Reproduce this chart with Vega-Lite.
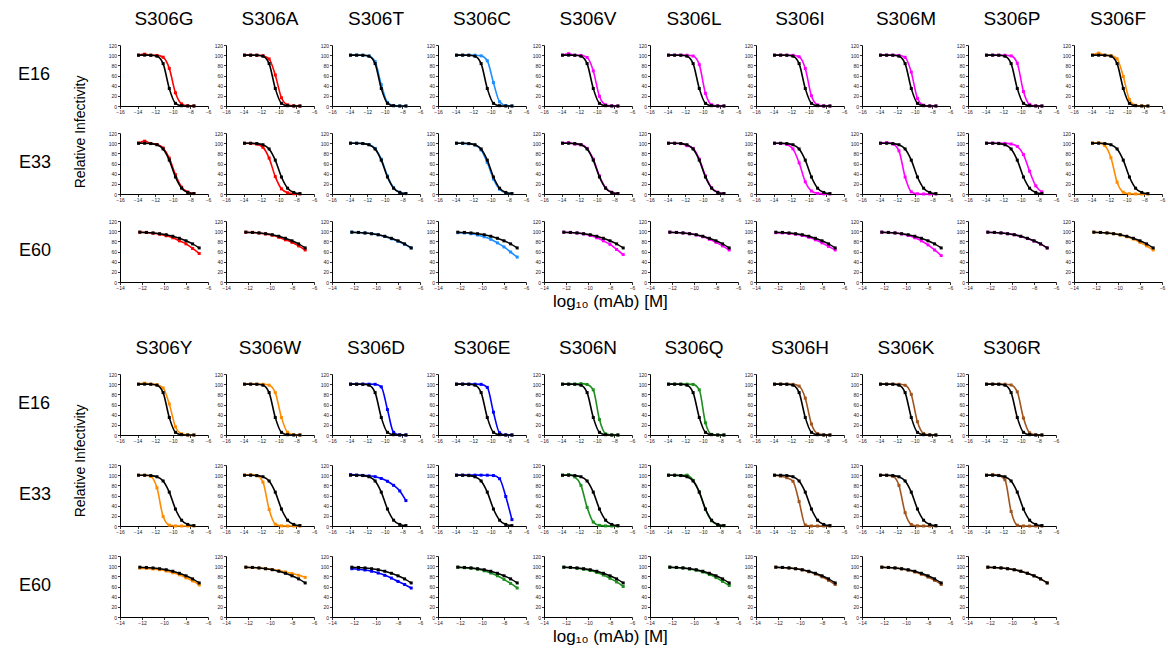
{
"$schema":"https://vega.github.io/schema/vega-lite/v6.json",
"background":"white",
"padding":{"left":17,"top":10,"right":2,"bottom":2},
"config":{"font":"Liberation Sans","view":{"stroke":null},
"axis":{"grid":false,"domainColor":"black","domainWidth":1,"tickColor":"black","tickSize":2.5,"tickWidth":0.8,"labelFontSize":5,"labelColor":"#222","labelPadding":1,"labelOverlap":false,"labelFlush":false,"labelBound":false,"title":null},
"header":{"labelFont":"Liberation Sans","labelColor":"black","titleFont":"Liberation Sans"},
"title":{"font":"Liberation Sans","fontWeight":"normal","color":"black"}},
"datasets":{
"top":[
{"e":"E16","m":"S306G","x":-13.9,"w":100,"v":100},{"e":"E16","m":"S306G","x":-13.2,"w":100,"v":102},{"e":"E16","m":"S306G","x":-12.5,"w":99.8,"v":99.9},{"e":"E16","m":"S306G","x":-11.8,"w":98,"v":99.5},{"e":"E16","m":"S306G","x":-11.1,"w":83.4,"v":95.9},{"e":"E16","m":"S306G","x":-10.4,"w":34.4,"v":74},{"e":"E16","m":"S306G","x":-9.7,"w":5.2,"v":26},{"e":"E16","m":"S306G","x":-9,"w":0.6,"v":4.1},{"e":"E16","m":"S306G","x":-8.3,"w":0,"v":0.5},{"e":"E16","m":"S306G","x":-7.6,"w":0,"v":0.1},
{"e":"E16","m":"S306A","x":-13.9,"w":100,"v":100},{"e":"E16","m":"S306A","x":-13.2,"w":100,"v":100},{"e":"E16","m":"S306A","x":-12.5,"w":99.8,"v":99.9},{"e":"E16","m":"S306A","x":-11.8,"w":98,"v":99},{"e":"E16","m":"S306A","x":-11.1,"w":83.4,"v":92.6},{"e":"E16","m":"S306A","x":-10.4,"w":34.4,"v":61},{"e":"E16","m":"S306A","x":-9.7,"w":5.2,"v":16.2},{"e":"E16","m":"S306A","x":-9,"w":0.6,"v":2.3},{"e":"E16","m":"S306A","x":-8.3,"w":0,"v":0.3},{"e":"E16","m":"S306A","x":-7.6,"w":0,"v":0},
{"e":"E16","m":"S306T","x":-13.9,"w":100,"v":100},{"e":"E16","m":"S306T","x":-13.2,"w":100,"v":100},{"e":"E16","m":"S306T","x":-12.5,"w":99.8,"v":99.8},{"e":"E16","m":"S306T","x":-11.8,"w":98,"v":98.5},{"e":"E16","m":"S306T","x":-11.1,"w":83.4,"v":87.4},{"e":"E16","m":"S306T","x":-10.4,"w":34.4,"v":42},{"e":"E16","m":"S306T","x":-9.7,"w":5.2,"v":7.1},{"e":"E16","m":"S306T","x":-9,"w":0.6,"v":0.8},{"e":"E16","m":"S306T","x":-8.3,"w":0,"v":0.1},{"e":"E16","m":"S306T","x":-7.6,"w":0,"v":0},
{"e":"E16","m":"S306C","x":-13.9,"w":100,"v":100},{"e":"E16","m":"S306C","x":-13.2,"w":100,"v":100},{"e":"E16","m":"S306C","x":-12.5,"w":99.8,"v":100},{"e":"E16","m":"S306C","x":-11.8,"w":98,"v":99.9},{"e":"E16","m":"S306C","x":-11.1,"w":83.4,"v":98.7},{"e":"E16","m":"S306C","x":-10.4,"w":34.4,"v":89},{"e":"E16","m":"S306C","x":-9.7,"w":5.2,"v":46},{"e":"E16","m":"S306C","x":-9,"w":0.6,"v":8.2},{"e":"E16","m":"S306C","x":-8.3,"w":0,"v":0.9},{"e":"E16","m":"S306C","x":-7.6,"w":0,"v":0.1},
{"e":"E16","m":"S306V","x":-13.9,"w":100,"v":100},{"e":"E16","m":"S306V","x":-13.2,"w":100,"v":103},{"e":"E16","m":"S306V","x":-12.5,"w":99.8,"v":99.9},{"e":"E16","m":"S306V","x":-11.8,"w":98,"v":99.5},{"e":"E16","m":"S306V","x":-11.1,"w":83.4,"v":95.5},{"e":"E16","m":"S306V","x":-10.4,"w":34.4,"v":69.1},{"e":"E16","m":"S306V","x":-9.7,"w":5.2,"v":19},{"e":"E16","m":"S306V","x":-9,"w":0.6,"v":2.4},{"e":"E16","m":"S306V","x":-8.3,"w":0,"v":0.3},{"e":"E16","m":"S306V","x":-7.6,"w":0,"v":0},
{"e":"E16","m":"S306L","x":-13.9,"w":100,"v":100},{"e":"E16","m":"S306L","x":-13.2,"w":100,"v":100},{"e":"E16","m":"S306L","x":-12.5,"w":99.8,"v":100},{"e":"E16","m":"S306L","x":-11.8,"w":98,"v":99.9},{"e":"E16","m":"S306L","x":-11.1,"w":83.4,"v":98.3},{"e":"E16","m":"S306L","x":-10.4,"w":34.4,"v":81.4},{"e":"E16","m":"S306L","x":-9.7,"w":5.2,"v":24.9},{"e":"E16","m":"S306L","x":-9,"w":0.6,"v":2.4},{"e":"E16","m":"S306L","x":-8.3,"w":0,"v":0.2},{"e":"E16","m":"S306L","x":-7.6,"w":0,"v":0},
{"e":"E16","m":"S306I","x":-13.9,"w":100,"v":100},{"e":"E16","m":"S306I","x":-13.2,"w":100,"v":100},{"e":"E16","m":"S306I","x":-12.5,"w":99.8,"v":100},{"e":"E16","m":"S306I","x":-11.8,"w":98,"v":99.7},{"e":"E16","m":"S306I","x":-11.1,"w":83.4,"v":96.9},{"e":"E16","m":"S306I","x":-10.4,"w":34.4,"v":73.8},{"e":"E16","m":"S306I","x":-9.7,"w":5.2,"v":20.1},{"e":"E16","m":"S306I","x":-9,"w":0.6,"v":2.2},{"e":"E16","m":"S306I","x":-8.3,"w":0,"v":0.2},{"e":"E16","m":"S306I","x":-7.6,"w":0,"v":0},
{"e":"E16","m":"S306M","x":-13.9,"w":100,"v":100},{"e":"E16","m":"S306M","x":-13.2,"w":100,"v":100},{"e":"E16","m":"S306M","x":-12.5,"w":99.8,"v":100},{"e":"E16","m":"S306M","x":-11.8,"w":98,"v":99.6},{"e":"E16","m":"S306M","x":-11.1,"w":83.4,"v":95.7},{"e":"E16","m":"S306M","x":-10.4,"w":34.4,"v":66.6},{"e":"E16","m":"S306M","x":-9.7,"w":5.2,"v":15.1},{"e":"E16","m":"S306M","x":-9,"w":0.6,"v":1.6},{"e":"E16","m":"S306M","x":-8.3,"w":0,"v":0.1},{"e":"E16","m":"S306M","x":-7.6,"w":0,"v":0},
{"e":"E16","m":"S306P","x":-13.9,"w":100,"v":100},{"e":"E16","m":"S306P","x":-13.2,"w":100,"v":100},{"e":"E16","m":"S306P","x":-12.5,"w":99.8,"v":100},{"e":"E16","m":"S306P","x":-11.8,"w":98,"v":99.9},{"e":"E16","m":"S306P","x":-11.1,"w":83.4,"v":98.6},{"e":"E16","m":"S306P","x":-10.4,"w":34.4,"v":84},{"e":"E16","m":"S306P","x":-9.7,"w":5.2,"v":28.5},{"e":"E16","m":"S306P","x":-9,"w":0.6,"v":2.9},{"e":"E16","m":"S306P","x":-8.3,"w":0,"v":0.2},{"e":"E16","m":"S306P","x":-7.6,"w":0,"v":0},
{"e":"E16","m":"S306F","x":-13.9,"w":100,"v":100},{"e":"E16","m":"S306F","x":-13.2,"w":100,"v":104},{"e":"E16","m":"S306F","x":-12.5,"w":99.8,"v":99.9},{"e":"E16","m":"S306F","x":-11.8,"w":98,"v":99.2},{"e":"E16","m":"S306F","x":-11.1,"w":83.4,"v":93},{"e":"E16","m":"S306F","x":-10.4,"w":34.4,"v":58},{"e":"E16","m":"S306F","x":-9.7,"w":5.2,"v":12.6},{"e":"E16","m":"S306F","x":-9,"w":0.6,"v":1.5},{"e":"E16","m":"S306F","x":-8.3,"w":0,"v":0.2},{"e":"E16","m":"S306F","x":-7.6,"w":0,"v":0},
{"e":"E33","m":"S306G","x":-13.9,"w":99.9,"v":100},{"e":"E33","m":"S306G","x":-13.2,"w":99.8,"v":104},{"e":"E33","m":"S306G","x":-12.5,"w":99.2,"v":99.3},{"e":"E33","m":"S306G","x":-11.8,"w":96.9,"v":97.4},{"e":"E33","m":"S306G","x":-11.1,"w":88.6,"v":90.5},{"e":"E33","m":"S306G","x":-10.4,"w":66.6,"v":70.6},{"e":"E33","m":"S306G","x":-9.7,"w":33.4,"v":38.1},{"e":"E33","m":"S306G","x":-9,"w":11.4,"v":13.4},{"e":"E33","m":"S306G","x":-8.3,"w":3.1,"v":3.8},{"e":"E33","m":"S306G","x":-7.6,"w":0.8,"v":1},
{"e":"E33","m":"S306A","x":-13.9,"w":99.9,"v":99.9},{"e":"E33","m":"S306A","x":-13.2,"w":99.8,"v":99.6},{"e":"E33","m":"S306A","x":-12.5,"w":99.2,"v":98.1},{"e":"E33","m":"S306A","x":-11.8,"w":96.9,"v":91.8},{"e":"E33","m":"S306A","x":-11.1,"w":88.6,"v":70.6},{"e":"E33","m":"S306A","x":-10.4,"w":66.6,"v":34.2},{"e":"E33","m":"S306A","x":-9.7,"w":33.4,"v":10.1},{"e":"E33","m":"S306A","x":-9,"w":11.4,"v":2.4},{"e":"E33","m":"S306A","x":-8.3,"w":3.1,"v":0.5},{"e":"E33","m":"S306A","x":-7.6,"w":0.8,"v":0.1},
{"e":"E33","m":"S306T","x":-13.9,"w":99.9,"v":100},{"e":"E33","m":"S306T","x":-13.2,"w":99.8,"v":99.8},{"e":"E33","m":"S306T","x":-12.5,"w":99.2,"v":99.3},{"e":"E33","m":"S306T","x":-11.8,"w":96.9,"v":97.1},{"e":"E33","m":"S306T","x":-11.1,"w":88.6,"v":89.7},{"e":"E33","m":"S306T","x":-10.4,"w":66.6,"v":68.6},{"e":"E33","m":"S306T","x":-9.7,"w":33.4,"v":35.7},{"e":"E33","m":"S306T","x":-9,"w":11.4,"v":12.4},{"e":"E33","m":"S306T","x":-8.3,"w":3.1,"v":3.5},{"e":"E33","m":"S306T","x":-7.6,"w":0.8,"v":0.9},
{"e":"E33","m":"S306C","x":-13.9,"w":99.9,"v":99.9},{"e":"E33","m":"S306C","x":-13.2,"w":99.8,"v":99.7},{"e":"E33","m":"S306C","x":-12.5,"w":99.2,"v":99},{"e":"E33","m":"S306C","x":-11.8,"w":96.9,"v":96.2},{"e":"E33","m":"S306C","x":-11.1,"w":88.6,"v":86.6},{"e":"E33","m":"S306C","x":-10.4,"w":66.6,"v":61.9},{"e":"E33","m":"S306C","x":-9.7,"w":33.4,"v":29.4},{"e":"E33","m":"S306C","x":-9,"w":11.4,"v":9.5},{"e":"E33","m":"S306C","x":-8.3,"w":3.1,"v":2.6},{"e":"E33","m":"S306C","x":-7.6,"w":0.8,"v":0.7},
{"e":"E33","m":"S306V","x":-13.9,"w":99.9,"v":100},{"e":"E33","m":"S306V","x":-13.2,"w":99.8,"v":101},{"e":"E33","m":"S306V","x":-12.5,"w":99.2,"v":98},{"e":"E33","m":"S306V","x":-11.8,"w":96.9,"v":97.1},{"e":"E33","m":"S306V","x":-11.1,"w":88.6,"v":89.7},{"e":"E33","m":"S306V","x":-10.4,"w":66.6,"v":68.6},{"e":"E33","m":"S306V","x":-9.7,"w":33.4,"v":35.7},{"e":"E33","m":"S306V","x":-9,"w":11.4,"v":12.4},{"e":"E33","m":"S306V","x":-8.3,"w":3.1,"v":3.5},{"e":"E33","m":"S306V","x":-7.6,"w":0.8,"v":0.9},
{"e":"E33","m":"S306L","x":-13.9,"w":99.9,"v":100},{"e":"E33","m":"S306L","x":-13.2,"w":99.8,"v":99.8},{"e":"E33","m":"S306L","x":-12.5,"w":99.2,"v":99.3},{"e":"E33","m":"S306L","x":-11.8,"w":96.9,"v":95},{"e":"E33","m":"S306L","x":-11.1,"w":88.6,"v":89.7},{"e":"E33","m":"S306L","x":-10.4,"w":66.6,"v":68.6},{"e":"E33","m":"S306L","x":-9.7,"w":33.4,"v":35.7},{"e":"E33","m":"S306L","x":-9,"w":11.4,"v":12.4},{"e":"E33","m":"S306L","x":-8.3,"w":3.1,"v":3.5},{"e":"E33","m":"S306L","x":-7.6,"w":0.8,"v":0.9},
{"e":"E33","m":"S306I","x":-13.9,"w":99.9,"v":99.9},{"e":"E33","m":"S306I","x":-13.2,"w":99.8,"v":99.5},{"e":"E33","m":"S306I","x":-12.5,"w":99.2,"v":97.5},{"e":"E33","m":"S306I","x":-11.8,"w":96.9,"v":88.8},{"e":"E33","m":"S306I","x":-11.1,"w":88.6,"v":61.3},{"e":"E33","m":"S306I","x":-10.4,"w":66.6,"v":24},{"e":"E33","m":"S306I","x":-9.7,"w":33.4,"v":5.9},{"e":"E33","m":"S306I","x":-9,"w":11.4,"v":1.2},{"e":"E33","m":"S306I","x":-8.3,"w":3.1,"v":0.3},{"e":"E33","m":"S306I","x":-7.6,"w":0.8,"v":0.1},
{"e":"E33","m":"S306M","x":-13.9,"w":99.9,"v":100},{"e":"E33","m":"S306M","x":-13.2,"w":99.8,"v":101},{"e":"E33","m":"S306M","x":-12.5,"w":99.2,"v":98.4},{"e":"E33","m":"S306M","x":-11.8,"w":96.9,"v":84.9},{"e":"E33","m":"S306M","x":-11.1,"w":88.6,"v":33.4},{"e":"E33","m":"S306M","x":-10.4,"w":66.6,"v":4.3},{"e":"E33","m":"S306M","x":-9.7,"w":33.4,"v":0.4},{"e":"E33","m":"S306M","x":-9,"w":11.4,"v":0},{"e":"E33","m":"S306M","x":-8.3,"w":3.1,"v":0},{"e":"E33","m":"S306M","x":-7.6,"w":0.8,"v":0},
{"e":"E33","m":"S306P","x":-13.9,"w":99.9,"v":100},{"e":"E33","m":"S306P","x":-13.2,"w":99.8,"v":100},{"e":"E33","m":"S306P","x":-12.5,"w":99.2,"v":99.9},{"e":"E33","m":"S306P","x":-11.8,"w":96.9,"v":99.6},{"e":"E33","m":"S306P","x":-11.1,"w":88.6,"v":98.4},{"e":"E33","m":"S306P","x":-10.4,"w":66.6,"v":93.7},{"e":"E33","m":"S306P","x":-9.7,"w":33.4,"v":77.6},{"e":"E33","m":"S306P","x":-9,"w":11.4,"v":44.8},{"e":"E33","m":"S306P","x":-8.3,"w":3.1,"v":16},{"e":"E33","m":"S306P","x":-7.6,"w":0.8,"v":4.3},
{"e":"E33","m":"S306F","x":-13.9,"w":99.9,"v":99.9},{"e":"E33","m":"S306F","x":-13.2,"w":99.8,"v":101},{"e":"E33","m":"S306F","x":-12.5,"w":99.2,"v":95.2},{"e":"E33","m":"S306F","x":-11.8,"w":96.9,"v":71.1},{"e":"E33","m":"S306F","x":-11.1,"w":88.6,"v":23.2},{"e":"E33","m":"S306F","x":-10.4,"w":66.6,"v":3.6},{"e":"E33","m":"S306F","x":-9.7,"w":33.4,"v":0.5},{"e":"E33","m":"S306F","x":-9,"w":11.4,"v":0.1},{"e":"E33","m":"S306F","x":-8.3,"w":3.1,"v":0},{"e":"E33","m":"S306F","x":-7.6,"w":0.8,"v":0},
{"e":"E60","m":"S306G","x":-12.2,"w":98,"v":98},{"e":"E60","m":"S306G","x":-11.6,"w":97.5,"v":97.5},{"e":"E60","m":"S306G","x":-11,"w":96.5,"v":96},{"e":"E60","m":"S306G","x":-10.4,"w":95,"v":94},{"e":"E60","m":"S306G","x":-9.8,"w":93,"v":91},{"e":"E60","m":"S306G","x":-9.2,"w":90,"v":87},{"e":"E60","m":"S306G","x":-8.6,"w":86,"v":81},{"e":"E60","m":"S306G","x":-8,"w":81,"v":75},{"e":"E60","m":"S306G","x":-7.4,"w":75,"v":66},{"e":"E60","m":"S306G","x":-6.8,"w":67,"v":56},
{"e":"E60","m":"S306A","x":-12.2,"w":98,"v":98},{"e":"E60","m":"S306A","x":-11.6,"w":97.5,"v":97.5},{"e":"E60","m":"S306A","x":-11,"w":96.5,"v":96.5},{"e":"E60","m":"S306A","x":-10.4,"w":95,"v":94.5},{"e":"E60","m":"S306A","x":-9.8,"w":93,"v":92},{"e":"E60","m":"S306A","x":-9.2,"w":90,"v":88},{"e":"E60","m":"S306A","x":-8.6,"w":86,"v":83},{"e":"E60","m":"S306A","x":-8,"w":81,"v":78},{"e":"E60","m":"S306A","x":-7.4,"w":75,"v":71},{"e":"E60","m":"S306A","x":-6.8,"w":67,"v":63},
{"e":"E60","m":"S306T","x":-12.2,"w":98,"v":98},{"e":"E60","m":"S306T","x":-11.6,"w":97.5,"v":97.5},{"e":"E60","m":"S306T","x":-11,"w":96.5,"v":96.5},{"e":"E60","m":"S306T","x":-10.4,"w":95,"v":95},{"e":"E60","m":"S306T","x":-9.8,"w":93,"v":93},{"e":"E60","m":"S306T","x":-9.2,"w":90,"v":89.5},{"e":"E60","m":"S306T","x":-8.6,"w":86,"v":85},{"e":"E60","m":"S306T","x":-8,"w":81,"v":80},{"e":"E60","m":"S306T","x":-7.4,"w":75,"v":74},{"e":"E60","m":"S306T","x":-6.8,"w":67,"v":67},
{"e":"E60","m":"S306C","x":-12.2,"w":98,"v":97},{"e":"E60","m":"S306C","x":-11.6,"w":97.5,"v":96.5},{"e":"E60","m":"S306C","x":-11,"w":96.5,"v":95},{"e":"E60","m":"S306C","x":-10.4,"w":95,"v":92.5},{"e":"E60","m":"S306C","x":-9.8,"w":93,"v":89},{"e":"E60","m":"S306C","x":-9.2,"w":90,"v":84},{"e":"E60","m":"S306C","x":-8.6,"w":86,"v":77},{"e":"E60","m":"S306C","x":-8,"w":81,"v":69},{"e":"E60","m":"S306C","x":-7.4,"w":75,"v":59},{"e":"E60","m":"S306C","x":-6.8,"w":67,"v":49},
{"e":"E60","m":"S306V","x":-12.2,"w":98,"v":98},{"e":"E60","m":"S306V","x":-11.6,"w":97.5,"v":97.5},{"e":"E60","m":"S306V","x":-11,"w":96.5,"v":96.5},{"e":"E60","m":"S306V","x":-10.4,"w":95,"v":94.5},{"e":"E60","m":"S306V","x":-9.8,"w":93,"v":91.5},{"e":"E60","m":"S306V","x":-9.2,"w":90,"v":87},{"e":"E60","m":"S306V","x":-8.6,"w":86,"v":81},{"e":"E60","m":"S306V","x":-8,"w":81,"v":74},{"e":"E60","m":"S306V","x":-7.4,"w":75,"v":64},{"e":"E60","m":"S306V","x":-6.8,"w":67,"v":54},
{"e":"E60","m":"S306L","x":-12.2,"w":98,"v":98},{"e":"E60","m":"S306L","x":-11.6,"w":97.5,"v":97.5},{"e":"E60","m":"S306L","x":-11,"w":96.5,"v":96.5},{"e":"E60","m":"S306L","x":-10.4,"w":95,"v":95},{"e":"E60","m":"S306L","x":-9.8,"w":93,"v":92.5},{"e":"E60","m":"S306L","x":-9.2,"w":90,"v":89},{"e":"E60","m":"S306L","x":-8.6,"w":86,"v":84},{"e":"E60","m":"S306L","x":-8,"w":81,"v":78},{"e":"E60","m":"S306L","x":-7.4,"w":75,"v":71},{"e":"E60","m":"S306L","x":-6.8,"w":67,"v":63},
{"e":"E60","m":"S306I","x":-12.2,"w":98,"v":97},{"e":"E60","m":"S306I","x":-11.6,"w":97.5,"v":96.5},{"e":"E60","m":"S306I","x":-11,"w":96.5,"v":95.5},{"e":"E60","m":"S306I","x":-10.4,"w":95,"v":94},{"e":"E60","m":"S306I","x":-9.8,"w":93,"v":91.5},{"e":"E60","m":"S306I","x":-9.2,"w":90,"v":88},{"e":"E60","m":"S306I","x":-8.6,"w":86,"v":83},{"e":"E60","m":"S306I","x":-8,"w":81,"v":77},{"e":"E60","m":"S306I","x":-7.4,"w":75,"v":70},{"e":"E60","m":"S306I","x":-6.8,"w":67,"v":63},
{"e":"E60","m":"S306M","x":-12.2,"w":98,"v":98},{"e":"E60","m":"S306M","x":-11.6,"w":97.5,"v":97.5},{"e":"E60","m":"S306M","x":-11,"w":96.5,"v":96.5},{"e":"E60","m":"S306M","x":-10.4,"w":95,"v":94.5},{"e":"E60","m":"S306M","x":-9.8,"w":93,"v":91.5},{"e":"E60","m":"S306M","x":-9.2,"w":90,"v":87},{"e":"E60","m":"S306M","x":-8.6,"w":86,"v":81},{"e":"E60","m":"S306M","x":-8,"w":81,"v":73},{"e":"E60","m":"S306M","x":-7.4,"w":75,"v":63},{"e":"E60","m":"S306M","x":-6.8,"w":67,"v":52},
{"e":"E60","m":"S306P","x":-12.2,"w":98,"v":98},{"e":"E60","m":"S306P","x":-11.6,"w":97.5,"v":97.5},{"e":"E60","m":"S306P","x":-11,"w":96.5,"v":96.5},{"e":"E60","m":"S306P","x":-10.4,"w":95,"v":95},{"e":"E60","m":"S306P","x":-9.8,"w":93,"v":93},{"e":"E60","m":"S306P","x":-9.2,"w":90,"v":89.5},{"e":"E60","m":"S306P","x":-8.6,"w":86,"v":85.5},{"e":"E60","m":"S306P","x":-8,"w":81,"v":80.5},{"e":"E60","m":"S306P","x":-7.4,"w":75,"v":74.5},{"e":"E60","m":"S306P","x":-6.8,"w":67,"v":67},
{"e":"E60","m":"S306F","x":-12.2,"w":98,"v":98},{"e":"E60","m":"S306F","x":-11.6,"w":97.5,"v":97.5},{"e":"E60","m":"S306F","x":-11,"w":96.5,"v":96.5},{"e":"E60","m":"S306F","x":-10.4,"w":95,"v":95},{"e":"E60","m":"S306F","x":-9.8,"w":93,"v":92.5},{"e":"E60","m":"S306F","x":-9.2,"w":90,"v":89},{"e":"E60","m":"S306F","x":-8.6,"w":86,"v":84.5},{"e":"E60","m":"S306F","x":-8,"w":81,"v":78},{"e":"E60","m":"S306F","x":-7.4,"w":75,"v":71},{"e":"E60","m":"S306F","x":-6.8,"w":67,"v":63}
],
"bot":[
{"e":"E16","m":"S306Y","x":-13.9,"w":100,"v":100},{"e":"E16","m":"S306Y","x":-13.2,"w":100,"v":102},{"e":"E16","m":"S306Y","x":-12.5,"w":99.8,"v":99.9},{"e":"E16","m":"S306Y","x":-11.8,"w":98,"v":99},{"e":"E16","m":"S306Y","x":-11.1,"w":83.4,"v":92.6},{"e":"E16","m":"S306Y","x":-10.4,"w":34.4,"v":61},{"e":"E16","m":"S306Y","x":-9.7,"w":5.2,"v":16.2},{"e":"E16","m":"S306Y","x":-9,"w":0.6,"v":2.3},{"e":"E16","m":"S306Y","x":-8.3,"w":0,"v":0.3},{"e":"E16","m":"S306Y","x":-7.6,"w":0,"v":0},
{"e":"E16","m":"S306W","x":-13.9,"w":100,"v":100},{"e":"E16","m":"S306W","x":-13.2,"w":100,"v":100},{"e":"E16","m":"S306W","x":-12.5,"w":99.8,"v":100},{"e":"E16","m":"S306W","x":-11.8,"w":98,"v":99.8},{"e":"E16","m":"S306W","x":-11.1,"w":83.4,"v":98},{"e":"E16","m":"S306W","x":-10.4,"w":34.4,"v":83.4},{"e":"E16","m":"S306W","x":-9.7,"w":5.2,"v":34.4},{"e":"E16","m":"S306W","x":-9,"w":0.6,"v":5.2},{"e":"E16","m":"S306W","x":-8.3,"w":0,"v":0.6},{"e":"E16","m":"S306W","x":-7.6,"w":0,"v":0.1},
{"e":"E16","m":"S306D","x":-13.9,"w":100,"v":100},{"e":"E16","m":"S306D","x":-13.2,"w":100,"v":100},{"e":"E16","m":"S306D","x":-12.5,"w":99.8,"v":100},{"e":"E16","m":"S306D","x":-11.8,"w":98,"v":100},{"e":"E16","m":"S306D","x":-11.1,"w":83.4,"v":99.7},{"e":"E16","m":"S306D","x":-10.4,"w":34.4,"v":94.8},{"e":"E16","m":"S306D","x":-9.7,"w":5.2,"v":50},{"e":"E16","m":"S306D","x":-9,"w":0.6,"v":5.2},{"e":"E16","m":"S306D","x":-8.3,"w":0,"v":0.3},{"e":"E16","m":"S306D","x":-7.6,"w":0,"v":0},
{"e":"E16","m":"S306E","x":-13.9,"w":100,"v":100},{"e":"E16","m":"S306E","x":-13.2,"w":100,"v":100},{"e":"E16","m":"S306E","x":-12.5,"w":99.8,"v":100},{"e":"E16","m":"S306E","x":-11.8,"w":98,"v":100},{"e":"E16","m":"S306E","x":-11.1,"w":83.4,"v":99.6},{"e":"E16","m":"S306E","x":-10.4,"w":34.4,"v":93.7},{"e":"E16","m":"S306E","x":-9.7,"w":5.2,"v":44.9},{"e":"E16","m":"S306E","x":-9,"w":0.6,"v":4.3},{"e":"E16","m":"S306E","x":-8.3,"w":0,"v":0.2},{"e":"E16","m":"S306E","x":-7.6,"w":0,"v":0},
{"e":"E16","m":"S306N","x":-13.9,"w":100,"v":100},{"e":"E16","m":"S306N","x":-13.2,"w":100,"v":100},{"e":"E16","m":"S306N","x":-12.5,"w":99.8,"v":100},{"e":"E16","m":"S306N","x":-11.8,"w":98,"v":101},{"e":"E16","m":"S306N","x":-11.1,"w":83.4,"v":99.3},{"e":"E16","m":"S306N","x":-10.4,"w":34.4,"v":88.8},{"e":"E16","m":"S306N","x":-9.7,"w":5.2,"v":30.4},{"e":"E16","m":"S306N","x":-9,"w":0.6,"v":2.3},{"e":"E16","m":"S306N","x":-8.3,"w":0,"v":0.1},{"e":"E16","m":"S306N","x":-7.6,"w":0,"v":0},
{"e":"E16","m":"S306Q","x":-13.9,"w":100,"v":100},{"e":"E16","m":"S306Q","x":-13.2,"w":100,"v":100},{"e":"E16","m":"S306Q","x":-12.5,"w":99.8,"v":100},{"e":"E16","m":"S306Q","x":-11.8,"w":98,"v":100},{"e":"E16","m":"S306Q","x":-11.1,"w":83.4,"v":99.5},{"e":"E16","m":"S306Q","x":-10.4,"w":34.4,"v":88.8},{"e":"E16","m":"S306Q","x":-9.7,"w":5.2,"v":24},{"e":"E16","m":"S306Q","x":-9,"w":0.6,"v":1.2},{"e":"E16","m":"S306Q","x":-8.3,"w":0,"v":0},{"e":"E16","m":"S306Q","x":-7.6,"w":0,"v":0},
{"e":"E16","m":"S306H","x":-13.9,"w":100,"v":100},{"e":"E16","m":"S306H","x":-13.2,"w":100,"v":100},{"e":"E16","m":"S306H","x":-12.5,"w":99.8,"v":100},{"e":"E16","m":"S306H","x":-11.8,"w":98,"v":99.6},{"e":"E16","m":"S306H","x":-11.1,"w":83.4,"v":96.2},{"e":"E16","m":"S306H","x":-10.4,"w":34.4,"v":72.5},{"e":"E16","m":"S306H","x":-9.7,"w":5.2,"v":21.6},{"e":"E16","m":"S306H","x":-9,"w":0.6,"v":2.8},{"e":"E16","m":"S306H","x":-8.3,"w":0,"v":0.3},{"e":"E16","m":"S306H","x":-7.6,"w":0,"v":0},
{"e":"E16","m":"S306K","x":-13.9,"w":100,"v":100},{"e":"E16","m":"S306K","x":-13.2,"w":100,"v":100},{"e":"E16","m":"S306K","x":-12.5,"w":99.8,"v":100},{"e":"E16","m":"S306K","x":-11.8,"w":98,"v":99.8},{"e":"E16","m":"S306K","x":-11.1,"w":83.4,"v":97.8},{"e":"E16","m":"S306K","x":-10.4,"w":34.4,"v":79.9},{"e":"E16","m":"S306K","x":-9.7,"w":5.2,"v":26.2},{"e":"E16","m":"S306K","x":-9,"w":0.6,"v":3.1},{"e":"E16","m":"S306K","x":-8.3,"w":0,"v":0.3},{"e":"E16","m":"S306K","x":-7.6,"w":0,"v":0},
{"e":"E16","m":"S306R","x":-13.9,"w":100,"v":100},{"e":"E16","m":"S306R","x":-13.2,"w":100,"v":100},{"e":"E16","m":"S306R","x":-12.5,"w":99.8,"v":100},{"e":"E16","m":"S306R","x":-11.8,"w":98,"v":99.9},{"e":"E16","m":"S306R","x":-11.1,"w":83.4,"v":98.4},{"e":"E16","m":"S306R","x":-10.4,"w":34.4,"v":84.9},{"e":"E16","m":"S306R","x":-9.7,"w":5.2,"v":33.4},{"e":"E16","m":"S306R","x":-9,"w":0.6,"v":4.3},{"e":"E16","m":"S306R","x":-8.3,"w":0,"v":0.4},{"e":"E16","m":"S306R","x":-7.6,"w":0,"v":0},
{"e":"E33","m":"S306Y","x":-13.9,"w":99.9,"v":100},{"e":"E33","m":"S306Y","x":-13.2,"w":99.8,"v":99.8},{"e":"E33","m":"S306Y","x":-12.5,"w":99.2,"v":97.5},{"e":"E33","m":"S306Y","x":-11.8,"w":96.9,"v":75.1},{"e":"E33","m":"S306Y","x":-11.1,"w":88.6,"v":18.6},{"e":"E33","m":"S306Y","x":-10.4,"w":66.6,"v":1.7},{"e":"E33","m":"S306Y","x":-9.7,"w":33.4,"v":0.1},{"e":"E33","m":"S306Y","x":-9,"w":11.4,"v":0},{"e":"E33","m":"S306Y","x":-8.3,"w":3.1,"v":0},{"e":"E33","m":"S306Y","x":-7.6,"w":0.8,"v":0},
{"e":"E33","m":"S306W","x":-13.9,"w":99.9,"v":100},{"e":"E33","m":"S306W","x":-13.2,"w":99.8,"v":101},{"e":"E33","m":"S306W","x":-12.5,"w":99.2,"v":98.8},{"e":"E33","m":"S306W","x":-11.8,"w":96.9,"v":86.3},{"e":"E33","m":"S306W","x":-11.1,"w":88.6,"v":32.4},{"e":"E33","m":"S306W","x":-10.4,"w":66.6,"v":3.5},{"e":"E33","m":"S306W","x":-9.7,"w":33.4,"v":0.3},{"e":"E33","m":"S306W","x":-9,"w":11.4,"v":0},{"e":"E33","m":"S306W","x":-8.3,"w":3.1,"v":0},{"e":"E33","m":"S306W","x":-7.6,"w":0.8,"v":0},
{"e":"E33","m":"S306D","x":-13.9,"w":99.9,"v":101},{"e":"E33","m":"S306D","x":-13.2,"w":99.8,"v":100},{"e":"E33","m":"S306D","x":-12.5,"w":99.2,"v":99.5},{"e":"E33","m":"S306D","x":-11.8,"w":96.9,"v":98.5},{"e":"E33","m":"S306D","x":-11.1,"w":88.6,"v":97},{"e":"E33","m":"S306D","x":-10.4,"w":66.6,"v":93.5},{"e":"E33","m":"S306D","x":-9.7,"w":33.4,"v":88},{"e":"E33","m":"S306D","x":-9,"w":11.4,"v":80},{"e":"E33","m":"S306D","x":-8.3,"w":3.1,"v":69},{"e":"E33","m":"S306D","x":-7.6,"w":0.8,"v":50},
{"e":"E33","m":"S306E","x":-13.9,"w":99.9,"v":100},{"e":"E33","m":"S306E","x":-13.2,"w":99.8,"v":100},{"e":"E33","m":"S306E","x":-12.5,"w":99.2,"v":100},{"e":"E33","m":"S306E","x":-11.8,"w":96.9,"v":100},{"e":"E33","m":"S306E","x":-11.1,"w":88.6,"v":100},{"e":"E33","m":"S306E","x":-10.4,"w":66.6,"v":99.9},{"e":"E33","m":"S306E","x":-9.7,"w":33.4,"v":99.2},{"e":"E33","m":"S306E","x":-9,"w":11.4,"v":93},{"e":"E33","m":"S306E","x":-8.3,"w":3.1,"v":58},{"e":"E33","m":"S306E","x":-7.6,"w":0.8,"v":12.6},
{"e":"E33","m":"S306N","x":-13.9,"w":99.9,"v":99.9},{"e":"E33","m":"S306N","x":-13.2,"w":99.8,"v":101},{"e":"E33","m":"S306N","x":-12.5,"w":99.2,"v":96.5},{"e":"E33","m":"S306N","x":-11.8,"w":96.9,"v":79.9},{"e":"E33","m":"S306N","x":-11.1,"w":88.6,"v":36.5},{"e":"E33","m":"S306N","x":-10.4,"w":66.6,"v":7.7},{"e":"E33","m":"S306N","x":-9.7,"w":33.4,"v":1.2},{"e":"E33","m":"S306N","x":-9,"w":11.4,"v":0.2},{"e":"E33","m":"S306N","x":-8.3,"w":3.1,"v":0},{"e":"E33","m":"S306N","x":-7.6,"w":0.8,"v":0},
{"e":"E33","m":"S306Q","x":-13.9,"w":99.9,"v":100},{"e":"E33","m":"S306Q","x":-13.2,"w":99.8,"v":99.9},{"e":"E33","m":"S306Q","x":-12.5,"w":99.2,"v":99.4},{"e":"E33","m":"S306Q","x":-11.8,"w":96.9,"v":100},{"e":"E33","m":"S306Q","x":-11.1,"w":88.6,"v":89.8},{"e":"E33","m":"S306Q","x":-10.4,"w":66.6,"v":67.4},{"e":"E33","m":"S306Q","x":-9.7,"w":33.4,"v":32.6},{"e":"E33","m":"S306Q","x":-9,"w":11.4,"v":10.2},{"e":"E33","m":"S306Q","x":-8.3,"w":3.1,"v":2.6},{"e":"E33","m":"S306Q","x":-7.6,"w":0.8,"v":0.6},
{"e":"E33","m":"S306H","x":-13.9,"w":99.9,"v":100},{"e":"E33","m":"S306H","x":-13.2,"w":99.8,"v":98},{"e":"E33","m":"S306H","x":-12.5,"w":99.2,"v":95},{"e":"E33","m":"S306H","x":-11.8,"w":96.9,"v":88},{"e":"E33","m":"S306H","x":-11.1,"w":88.6,"v":48},{"e":"E33","m":"S306H","x":-10.4,"w":66.6,"v":2},{"e":"E33","m":"S306H","x":-9.7,"w":33.4,"v":0},{"e":"E33","m":"S306H","x":-9,"w":11.4,"v":0},{"e":"E33","m":"S306H","x":-8.3,"w":3.1,"v":0},{"e":"E33","m":"S306H","x":-7.6,"w":0.8,"v":0},
{"e":"E33","m":"S306K","x":-13.9,"w":99.9,"v":100},{"e":"E33","m":"S306K","x":-13.2,"w":99.8,"v":99.8},{"e":"E33","m":"S306K","x":-12.5,"w":99.2,"v":97.8},{"e":"E33","m":"S306K","x":-11.8,"w":96.9,"v":79.9},{"e":"E33","m":"S306K","x":-11.1,"w":88.6,"v":26.2},{"e":"E33","m":"S306K","x":-10.4,"w":66.6,"v":3.1},{"e":"E33","m":"S306K","x":-9.7,"w":33.4,"v":0.3},{"e":"E33","m":"S306K","x":-9,"w":11.4,"v":0},{"e":"E33","m":"S306K","x":-8.3,"w":3.1,"v":0},{"e":"E33","m":"S306K","x":-7.6,"w":0.8,"v":0},
{"e":"E33","m":"S306R","x":-13.9,"w":99.9,"v":100},{"e":"E33","m":"S306R","x":-13.2,"w":99.8,"v":101},{"e":"E33","m":"S306R","x":-12.5,"w":99.2,"v":99.6},{"e":"E33","m":"S306R","x":-11.8,"w":96.9,"v":90.9},{"e":"E33","m":"S306R","x":-11.1,"w":88.6,"v":28.5},{"e":"E33","m":"S306R","x":-10.4,"w":66.6,"v":1.6},{"e":"E33","m":"S306R","x":-9.7,"w":33.4,"v":0.1},{"e":"E33","m":"S306R","x":-9,"w":11.4,"v":0},{"e":"E33","m":"S306R","x":-8.3,"w":3.1,"v":0},{"e":"E33","m":"S306R","x":-7.6,"w":0.8,"v":0},
{"e":"E60","m":"S306Y","x":-12.2,"w":98,"v":96},{"e":"E60","m":"S306Y","x":-11.6,"w":97.5,"v":95.5},{"e":"E60","m":"S306Y","x":-11,"w":96.5,"v":94.5},{"e":"E60","m":"S306Y","x":-10.4,"w":95,"v":93},{"e":"E60","m":"S306Y","x":-9.8,"w":93,"v":90.5},{"e":"E60","m":"S306Y","x":-9.2,"w":90,"v":87},{"e":"E60","m":"S306Y","x":-8.6,"w":86,"v":83},{"e":"E60","m":"S306Y","x":-8,"w":81,"v":77},{"e":"E60","m":"S306Y","x":-7.4,"w":75,"v":71},{"e":"E60","m":"S306Y","x":-6.8,"w":67,"v":63},
{"e":"E60","m":"S306W","x":-12.2,"w":98,"v":98},{"e":"E60","m":"S306W","x":-11.6,"w":97.5,"v":97.5},{"e":"E60","m":"S306W","x":-11,"w":96.5,"v":96.5},{"e":"E60","m":"S306W","x":-10.4,"w":95,"v":95},{"e":"E60","m":"S306W","x":-9.8,"w":93,"v":93.5},{"e":"E60","m":"S306W","x":-9.2,"w":90,"v":91},{"e":"E60","m":"S306W","x":-8.6,"w":86,"v":88.5},{"e":"E60","m":"S306W","x":-8,"w":81,"v":85.5},{"e":"E60","m":"S306W","x":-7.4,"w":75,"v":82},{"e":"E60","m":"S306W","x":-6.8,"w":67,"v":78},
{"e":"E60","m":"S306D","x":-12.2,"w":98,"v":95},{"e":"E60","m":"S306D","x":-11.6,"w":97.5,"v":94},{"e":"E60","m":"S306D","x":-11,"w":96.5,"v":92.5},{"e":"E60","m":"S306D","x":-10.4,"w":95,"v":90},{"e":"E60","m":"S306D","x":-9.8,"w":93,"v":86.5},{"e":"E60","m":"S306D","x":-9.2,"w":90,"v":82},{"e":"E60","m":"S306D","x":-8.6,"w":86,"v":76.5},{"e":"E60","m":"S306D","x":-8,"w":81,"v":70},{"e":"E60","m":"S306D","x":-7.4,"w":75,"v":64},{"e":"E60","m":"S306D","x":-6.8,"w":67,"v":57},
{"e":"E60","m":"S306E","x":-12.2,"w":98,"v":98},{"e":"E60","m":"S306E","x":-11.6,"w":97.5,"v":97},{"e":"E60","m":"S306E","x":-11,"w":96.5,"v":96},{"e":"E60","m":"S306E","x":-10.4,"w":95,"v":94},{"e":"E60","m":"S306E","x":-9.8,"w":93,"v":91},{"e":"E60","m":"S306E","x":-9.2,"w":90,"v":86.5},{"e":"E60","m":"S306E","x":-8.6,"w":86,"v":81},{"e":"E60","m":"S306E","x":-8,"w":81,"v":74},{"e":"E60","m":"S306E","x":-7.4,"w":75,"v":66},{"e":"E60","m":"S306E","x":-6.8,"w":67,"v":57},
{"e":"E60","m":"S306N","x":-12.2,"w":98,"v":98},{"e":"E60","m":"S306N","x":-11.6,"w":97.5,"v":97.5},{"e":"E60","m":"S306N","x":-11,"w":96.5,"v":96},{"e":"E60","m":"S306N","x":-10.4,"w":95,"v":94},{"e":"E60","m":"S306N","x":-9.8,"w":93,"v":91.5},{"e":"E60","m":"S306N","x":-9.2,"w":90,"v":87.5},{"e":"E60","m":"S306N","x":-8.6,"w":86,"v":82.5},{"e":"E60","m":"S306N","x":-8,"w":81,"v":76},{"e":"E60","m":"S306N","x":-7.4,"w":75,"v":69},{"e":"E60","m":"S306N","x":-6.8,"w":67,"v":60},
{"e":"E60","m":"S306Q","x":-12.2,"w":98,"v":98},{"e":"E60","m":"S306Q","x":-11.6,"w":97.5,"v":97.5},{"e":"E60","m":"S306Q","x":-11,"w":96.5,"v":96.5},{"e":"E60","m":"S306Q","x":-10.4,"w":95,"v":94.5},{"e":"E60","m":"S306Q","x":-9.8,"w":93,"v":92},{"e":"E60","m":"S306Q","x":-9.2,"w":90,"v":88.5},{"e":"E60","m":"S306Q","x":-8.6,"w":86,"v":83.5},{"e":"E60","m":"S306Q","x":-8,"w":81,"v":77.5},{"e":"E60","m":"S306Q","x":-7.4,"w":75,"v":70},{"e":"E60","m":"S306Q","x":-6.8,"w":67,"v":62},
{"e":"E60","m":"S306H","x":-12.2,"w":98,"v":98},{"e":"E60","m":"S306H","x":-11.6,"w":97.5,"v":97.5},{"e":"E60","m":"S306H","x":-11,"w":96.5,"v":96.5},{"e":"E60","m":"S306H","x":-10.4,"w":95,"v":95},{"e":"E60","m":"S306H","x":-9.8,"w":93,"v":92.5},{"e":"E60","m":"S306H","x":-9.2,"w":90,"v":89},{"e":"E60","m":"S306H","x":-8.6,"w":86,"v":84.5},{"e":"E60","m":"S306H","x":-8,"w":81,"v":79},{"e":"E60","m":"S306H","x":-7.4,"w":75,"v":72},{"e":"E60","m":"S306H","x":-6.8,"w":67,"v":64},
{"e":"E60","m":"S306K","x":-12.2,"w":98,"v":98},{"e":"E60","m":"S306K","x":-11.6,"w":97.5,"v":97.5},{"e":"E60","m":"S306K","x":-11,"w":96.5,"v":96.5},{"e":"E60","m":"S306K","x":-10.4,"w":95,"v":94.5},{"e":"E60","m":"S306K","x":-9.8,"w":93,"v":92},{"e":"E60","m":"S306K","x":-9.2,"w":90,"v":88.5},{"e":"E60","m":"S306K","x":-8.6,"w":86,"v":84},{"e":"E60","m":"S306K","x":-8,"w":81,"v":78.5},{"e":"E60","m":"S306K","x":-7.4,"w":75,"v":72},{"e":"E60","m":"S306K","x":-6.8,"w":67,"v":64},
{"e":"E60","m":"S306R","x":-12.2,"w":98,"v":98},{"e":"E60","m":"S306R","x":-11.6,"w":97.5,"v":97.5},{"e":"E60","m":"S306R","x":-11,"w":96.5,"v":96.5},{"e":"E60","m":"S306R","x":-10.4,"w":95,"v":95},{"e":"E60","m":"S306R","x":-9.8,"w":93,"v":93},{"e":"E60","m":"S306R","x":-9.2,"w":90,"v":90},{"e":"E60","m":"S306R","x":-8.6,"w":86,"v":86},{"e":"E60","m":"S306R","x":-8,"w":81,"v":81},{"e":"E60","m":"S306R","x":-7.4,"w":75,"v":75},{"e":"E60","m":"S306R","x":-6.8,"w":67,"v":67}
]},
"vconcat":[
{"vconcat":[
{"data":{"name":"top"},"transform":[{"filter":"datum.e == 'E16'"}],
"title":{"text":"E16","orient":"left","angle":0,"align":"right","baseline":"middle","fontSize":18,"offset":-8,"dy":30,"frame":"group"},
"facet":{"row":{"field":"e","type":"nominal","header":{"title":null,"labelExpr":"'Relative Infectivity'","labelAngle":-90,"labelOrient":"left","labelFontSize":14,"labelPadding":25,"labelAlign":"right"}},"column":{"field":"m","type":"nominal","sort":["S306G","S306A","S306T","S306C","S306V","S306L","S306I","S306M","S306P","S306F"],"header":{"title":null,"labelFontSize":19,"labelPadding":16}}},
"spacing":18,"bounds":"flush","resolve":{"axis":{"x":"independent","y":"independent"}},
"spec":{"width":88,"height":61,"layer":[
{"mark":{"type":"line","interpolate":"monotone","strokeWidth":1.6},"encoding":{"x":{"field":"x","type":"quantitative","scale":{"domain":[-16,-6],"nice":false,"zero":false},"axis":{"values":[-16,-14,-12,-10,-8,-6],"tickCount":12,"format":"d","labelOverlap":false}},"y":{"field":"v","type":"quantitative","scale":{"domain":[0,120],"nice":false},"axis":{"values":[0,20,40,60,80,100,120],"tickCount":12,"format":"d","labelOverlap":false}},"color":{"field":"m","type":"nominal","scale":{"domain":["S306G","S306A","S306T","S306C","S306V","S306L","S306I","S306M","S306P","S306F"],"range":["#ff0000","#ff0000","#1e8fff","#1e8fff","#ff00ff","#ff00ff","#ff00ff","#ff00ff","#ff00ff","#ff8c00"]},"legend":null}}},
{"mark":{"type":"point","shape":"square","filled":true,"size":9,"opacity":1},"encoding":{"x":{"field":"x","type":"quantitative"},"y":{"field":"v","type":"quantitative"},"color":{"field":"m","type":"nominal","legend":null}}},
{"mark":{"type":"line","interpolate":"monotone","strokeWidth":1.6,"color":"black"},"encoding":{"x":{"field":"x","type":"quantitative"},"y":{"field":"w","type":"quantitative"}}},
{"mark":{"type":"point","shape":"square","filled":true,"size":9,"opacity":1,"color":"black"},"encoding":{"x":{"field":"x","type":"quantitative"},"y":{"field":"w","type":"quantitative"}}}
]}},
{"data":{"name":"top"},"transform":[{"filter":"datum.e == 'E33'"}],
"title":{"text":"E33","orient":"left","angle":0,"align":"right","baseline":"middle","fontSize":18,"offset":25,"dy":30,"frame":"group"},
"facet":{"column":{"field":"m","type":"nominal","sort":["S306G","S306A","S306T","S306C","S306V","S306L","S306I","S306M","S306P","S306F"],"header":{"title":null,"labels":false}}},
"spacing":18,"bounds":"flush","resolve":{"axis":{"x":"independent","y":"independent"}},
"spec":{"width":88,"height":61,"layer":[
{"mark":{"type":"line","interpolate":"monotone","strokeWidth":1.6},"encoding":{"x":{"field":"x","type":"quantitative","scale":{"domain":[-16,-6],"nice":false,"zero":false},"axis":{"values":[-16,-14,-12,-10,-8,-6],"tickCount":12,"format":"d","labelOverlap":false}},"y":{"field":"v","type":"quantitative","scale":{"domain":[0,120],"nice":false},"axis":{"values":[0,20,40,60,80,100,120],"tickCount":12,"format":"d","labelOverlap":false}},"color":{"field":"m","type":"nominal","scale":{"domain":["S306G","S306A","S306T","S306C","S306V","S306L","S306I","S306M","S306P","S306F"],"range":["#ff0000","#ff0000","#1e8fff","#1e8fff","#ff00ff","#ff00ff","#ff00ff","#ff00ff","#ff00ff","#ff8c00"]},"legend":null}}},
{"mark":{"type":"point","shape":"square","filled":true,"size":9,"opacity":1},"encoding":{"x":{"field":"x","type":"quantitative"},"y":{"field":"v","type":"quantitative"},"color":{"field":"m","type":"nominal","legend":null}}},
{"mark":{"type":"line","interpolate":"monotone","strokeWidth":1.6,"color":"black"},"encoding":{"x":{"field":"x","type":"quantitative"},"y":{"field":"w","type":"quantitative"}}},
{"mark":{"type":"point","shape":"square","filled":true,"size":9,"opacity":1,"color":"black"},"encoding":{"x":{"field":"x","type":"quantitative"},"y":{"field":"w","type":"quantitative"}}}
]}},
{"data":{"name":"top"},"transform":[{"filter":"datum.e == 'E60'"}],
"title":{"text":"E60","orient":"left","angle":0,"align":"right","baseline":"middle","fontSize":18,"offset":25,"dy":30,"frame":"group"},
"facet":{"column":{"field":"m","type":"nominal","sort":["S306G","S306A","S306T","S306C","S306V","S306L","S306I","S306M","S306P","S306F"],"header":{"title":null,"labels":false}}},
"spacing":18,"bounds":"flush","resolve":{"axis":{"x":"independent","y":"independent"}},
"spec":{"width":88,"height":61,"layer":[
{"mark":{"type":"line","interpolate":"monotone","strokeWidth":1.6},"encoding":{"x":{"field":"x","type":"quantitative","scale":{"domain":[-14,-6],"nice":false,"zero":false},"axis":{"values":[-14,-12,-10,-8,-6],"tickCount":12,"format":"d","labelOverlap":false}},"y":{"field":"v","type":"quantitative","scale":{"domain":[0,120],"nice":false},"axis":{"values":[0,20,40,60,80,100,120],"tickCount":12,"format":"d","labelOverlap":false}},"color":{"field":"m","type":"nominal","scale":{"domain":["S306G","S306A","S306T","S306C","S306V","S306L","S306I","S306M","S306P","S306F"],"range":["#ff0000","#ff0000","#1e8fff","#1e8fff","#ff00ff","#ff00ff","#ff00ff","#ff00ff","#ff00ff","#ff8c00"]},"legend":null}}},
{"mark":{"type":"point","shape":"square","filled":true,"size":9,"opacity":1},"encoding":{"x":{"field":"x","type":"quantitative"},"y":{"field":"v","type":"quantitative"},"color":{"field":"m","type":"nominal","legend":null}}},
{"mark":{"type":"line","interpolate":"monotone","strokeWidth":1.6,"color":"black"},"encoding":{"x":{"field":"x","type":"quantitative"},"y":{"field":"w","type":"quantitative"}}},
{"mark":{"type":"point","shape":"square","filled":true,"size":9,"opacity":1,"color":"black"},"encoding":{"x":{"field":"x","type":"quantitative"},"y":{"field":"w","type":"quantitative"}}}
]}}
],"spacing":88,"bounds":"flush","resolve":{"scale":{"x":"independent","y":"independent","color":"independent"}},
"title":{"text":"log₁₀ (mAb) [M]","orient":"bottom","anchor":"middle","fontSize":17,"offset":8,"dx":19,"dy":-5}},
{"vconcat":[
{"data":{"name":"bot"},"transform":[{"filter":"datum.e == 'E16'"}],
"title":{"text":"E16","orient":"left","angle":0,"align":"right","baseline":"middle","fontSize":18,"offset":-8,"dy":30,"frame":"group"},
"facet":{"row":{"field":"e","type":"nominal","header":{"title":null,"labelExpr":"'Relative Infectivity'","labelAngle":-90,"labelOrient":"left","labelFontSize":14,"labelPadding":25,"labelAlign":"right"}},"column":{"field":"m","type":"nominal","sort":["S306Y","S306W","S306D","S306E","S306N","S306Q","S306H","S306K","S306R"],"header":{"title":null,"labelFontSize":19,"labelPadding":16}}},
"spacing":18,"bounds":"flush","resolve":{"axis":{"x":"independent","y":"independent"}},
"spec":{"width":88,"height":61,"layer":[
{"mark":{"type":"line","interpolate":"monotone","strokeWidth":1.6},"encoding":{"x":{"field":"x","type":"quantitative","scale":{"domain":[-16,-6],"nice":false,"zero":false},"axis":{"values":[-16,-14,-12,-10,-8,-6],"tickCount":12,"format":"d","labelOverlap":false}},"y":{"field":"v","type":"quantitative","scale":{"domain":[0,120],"nice":false},"axis":{"values":[0,20,40,60,80,100,120],"tickCount":12,"format":"d","labelOverlap":false}},"color":{"field":"m","type":"nominal","scale":{"domain":["S306Y","S306W","S306D","S306E","S306N","S306Q","S306H","S306K","S306R"],"range":["#ff8c00","#ff8c00","#0000ff","#0000ff","#1e8f1e","#1e8f1e","#a0541e","#a0541e","#a0541e"]},"legend":null}}},
{"mark":{"type":"point","shape":"square","filled":true,"size":9,"opacity":1},"encoding":{"x":{"field":"x","type":"quantitative"},"y":{"field":"v","type":"quantitative"},"color":{"field":"m","type":"nominal","legend":null}}},
{"mark":{"type":"line","interpolate":"monotone","strokeWidth":1.6,"color":"black"},"encoding":{"x":{"field":"x","type":"quantitative"},"y":{"field":"w","type":"quantitative"}}},
{"mark":{"type":"point","shape":"square","filled":true,"size":9,"opacity":1,"color":"black"},"encoding":{"x":{"field":"x","type":"quantitative"},"y":{"field":"w","type":"quantitative"}}}
]}},
{"data":{"name":"bot"},"transform":[{"filter":"datum.e == 'E33'"}],
"title":{"text":"E33","orient":"left","angle":0,"align":"right","baseline":"middle","fontSize":18,"offset":25,"dy":30,"frame":"group"},
"facet":{"column":{"field":"m","type":"nominal","sort":["S306Y","S306W","S306D","S306E","S306N","S306Q","S306H","S306K","S306R"],"header":{"title":null,"labels":false}}},
"spacing":18,"bounds":"flush","resolve":{"axis":{"x":"independent","y":"independent"}},
"spec":{"width":88,"height":61,"layer":[
{"mark":{"type":"line","interpolate":"monotone","strokeWidth":1.6},"encoding":{"x":{"field":"x","type":"quantitative","scale":{"domain":[-16,-6],"nice":false,"zero":false},"axis":{"values":[-16,-14,-12,-10,-8,-6],"tickCount":12,"format":"d","labelOverlap":false}},"y":{"field":"v","type":"quantitative","scale":{"domain":[0,120],"nice":false},"axis":{"values":[0,20,40,60,80,100,120],"tickCount":12,"format":"d","labelOverlap":false}},"color":{"field":"m","type":"nominal","scale":{"domain":["S306Y","S306W","S306D","S306E","S306N","S306Q","S306H","S306K","S306R"],"range":["#ff8c00","#ff8c00","#0000ff","#0000ff","#1e8f1e","#1e8f1e","#a0541e","#a0541e","#a0541e"]},"legend":null}}},
{"mark":{"type":"point","shape":"square","filled":true,"size":9,"opacity":1},"encoding":{"x":{"field":"x","type":"quantitative"},"y":{"field":"v","type":"quantitative"},"color":{"field":"m","type":"nominal","legend":null}}},
{"mark":{"type":"line","interpolate":"monotone","strokeWidth":1.6,"color":"black"},"encoding":{"x":{"field":"x","type":"quantitative"},"y":{"field":"w","type":"quantitative"}}},
{"mark":{"type":"point","shape":"square","filled":true,"size":9,"opacity":1,"color":"black"},"encoding":{"x":{"field":"x","type":"quantitative"},"y":{"field":"w","type":"quantitative"}}}
]}},
{"data":{"name":"bot"},"transform":[{"filter":"datum.e == 'E60'"}],
"title":{"text":"E60","orient":"left","angle":0,"align":"right","baseline":"middle","fontSize":18,"offset":25,"dy":30,"frame":"group"},
"facet":{"column":{"field":"m","type":"nominal","sort":["S306Y","S306W","S306D","S306E","S306N","S306Q","S306H","S306K","S306R"],"header":{"title":null,"labels":false}}},
"spacing":18,"bounds":"flush","resolve":{"axis":{"x":"independent","y":"independent"}},
"spec":{"width":88,"height":61,"layer":[
{"mark":{"type":"line","interpolate":"monotone","strokeWidth":1.6},"encoding":{"x":{"field":"x","type":"quantitative","scale":{"domain":[-14,-6],"nice":false,"zero":false},"axis":{"values":[-14,-12,-10,-8,-6],"tickCount":12,"format":"d","labelOverlap":false}},"y":{"field":"v","type":"quantitative","scale":{"domain":[0,120],"nice":false},"axis":{"values":[0,20,40,60,80,100,120],"tickCount":12,"format":"d","labelOverlap":false}},"color":{"field":"m","type":"nominal","scale":{"domain":["S306Y","S306W","S306D","S306E","S306N","S306Q","S306H","S306K","S306R"],"range":["#ff8c00","#ff8c00","#0000ff","#1e8f1e","#1e8f1e","#1e8f1e","#a0541e","#a0541e","#a0541e"]},"legend":null}}},
{"mark":{"type":"point","shape":"square","filled":true,"size":9,"opacity":1},"encoding":{"x":{"field":"x","type":"quantitative"},"y":{"field":"v","type":"quantitative"},"color":{"field":"m","type":"nominal","legend":null}}},
{"mark":{"type":"line","interpolate":"monotone","strokeWidth":1.6,"color":"black"},"encoding":{"x":{"field":"x","type":"quantitative"},"y":{"field":"w","type":"quantitative"}}},
{"mark":{"type":"point","shape":"square","filled":true,"size":9,"opacity":1,"color":"black"},"encoding":{"x":{"field":"x","type":"quantitative"},"y":{"field":"w","type":"quantitative"}}}
]}}
],"spacing":91,"bounds":"flush","resolve":{"scale":{"x":"independent","y":"independent","color":"independent"}},
"title":{"text":"log₁₀ (mAb) [M]","orient":"bottom","anchor":"middle","fontSize":17,"offset":8,"dx":72,"dy":-5}}
],
"spacing":329,"bounds":"flush","resolve":{"scale":{"x":"independent","y":"independent","color":"independent"}}
}
